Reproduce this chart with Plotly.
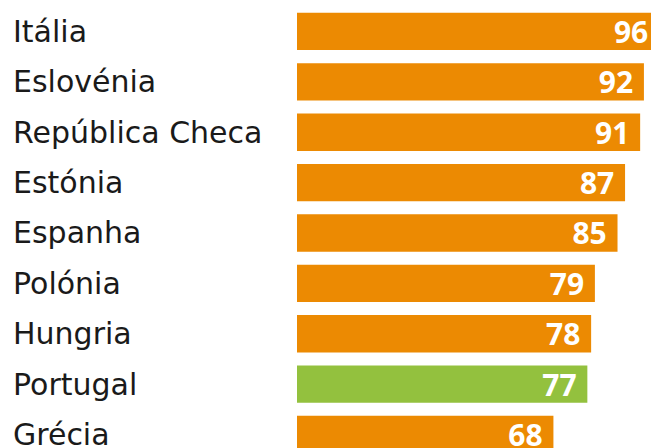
import plotly.graph_objects as go

countries = ["Itália", "Eslovénia", "República Checa", "Estónia", "Espanha",
             "Polónia", "Hungria", "Portugal", "Grécia"]
values = [96, 92, 91, 87, 85, 79, 78, 77, 68]
highlight = "Portugal"

ORANGE = "#EC8A02"
GREEN = "#93C13E"
colors = [GREEN if c == highlight else ORANGE for c in countries]

FIG_W = 659          # wider than the 651px window: the top bar runs off the edge
LEFT = 297
PLOT_W = FIG_W - LEFT

fig = go.Figure()
fig.add_trace(go.Bar(
    x=values, y=countries, orientation="h",
    marker=dict(color=colors, line=dict(width=0)),
    text=[f"{v}\u00a0" for v in values],
    textposition="inside", insidetextanchor="end",
    textangle=0, constraintext="none",
    textfont=dict(family="Open Sans", size=30, color="white", weight="bold"),
    cliponaxis=False, hoverinfo="skip",
))

for c in countries:
    fig.add_annotation(
        x=(11 - LEFT) / PLOT_W, xref="paper", xanchor="left",
        y=c, yref="y", yanchor="middle",
        text=c, showarrow=False,
        font=dict(family="DejaVu Sans", size=30, color="#1a1a1a"),
    )

fig.update_layout(
    width=FIG_W, height=448,
    margin=dict(l=LEFT, r=0, t=0, b=0),
    paper_bgcolor="white", plot_bgcolor="white",
    bargap=0.26, showlegend=False,
    xaxis=dict(range=[0, 96], visible=False, fixedrange=True),
    yaxis=dict(type="category", range=[8.268, -0.625], visible=False,
               categoryorder="array", categoryarray=countries, fixedrange=True),
)

fig.write_html(
    "out.html",
    config={"displayModeBar": False},
    post_script="document.body.style.margin='0';document.body.style.overflow='hidden';",
)
